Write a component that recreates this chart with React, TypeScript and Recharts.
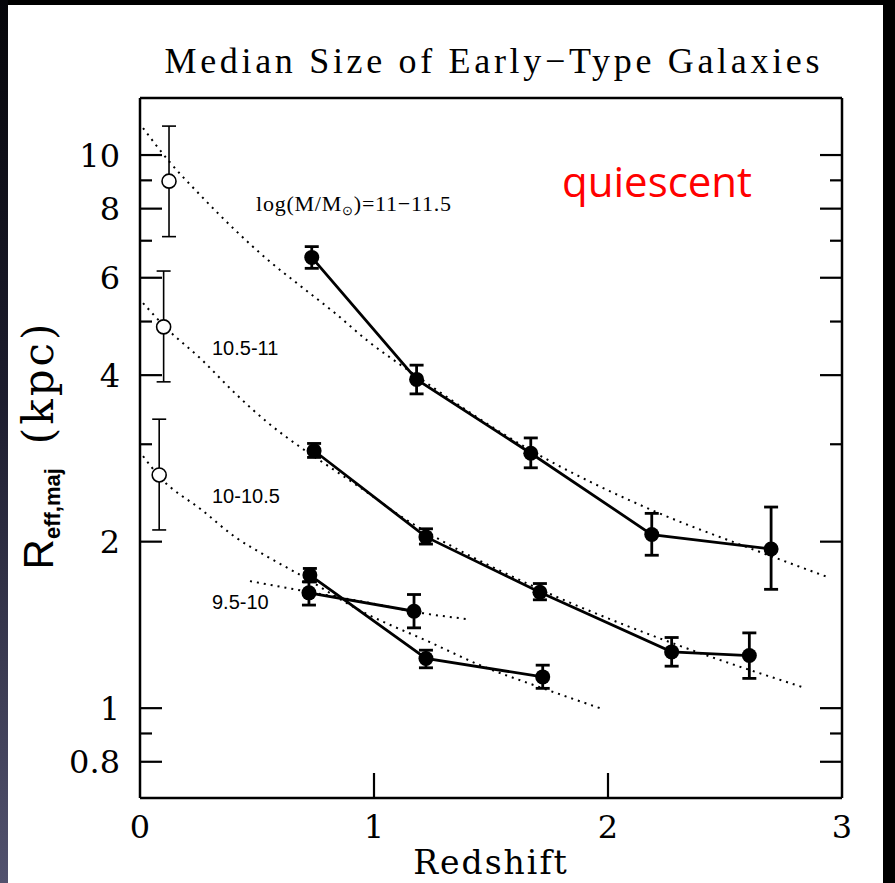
import React from "react";
import { LineChart, Line, XAxis, YAxis, ErrorBar, Customized } from "recharts";

const W = 895;
const H = 883;

// log(M/Msun) = 11-11.5 : redshift, median size, lower / upper bound (kpc)
const zMass11 = [0.734, 1.182, 1.67, 2.187, 2.697];
const rMass11 = [6.53, 3.93, 2.89, 2.06, 1.94];
const loMass11 = [6.24, 3.7, 2.72, 1.89, 1.64];
const hiMass11 = [6.83, 4.17, 3.08, 2.25, 2.31];

// 10.5-11
const zMass105 = [0.744, 1.222, 1.709, 2.272, 2.604];
const rMass105 = [2.92, 2.04, 1.62, 1.264, 1.245];
const loMass105 = [2.84, 1.98, 1.57, 1.191, 1.132];
const hiMass105 = [3.01, 2.11, 1.68, 1.342, 1.368];

// 10-10.5
const zMass10 = [0.726, 1.222, 1.721];
const rMass10 = [1.74, 1.23, 1.139];
const loMass10 = [1.692, 1.183, 1.086];
const hiMass10 = [1.789, 1.273, 1.196];

// 9.5-10
const zMass95 = [0.722, 1.171];
const rMass95 = [1.616, 1.497];
const loMass95 = [1.536, 1.397];
const hiMass95 = [1.692, 1.605];

// local samples (open circles)
const zLocal = [0.124, 0.101, 0.082];
const rLocal = [8.97, 4.89, 2.64];
const loLocal = [7.12, 3.89, 2.1];
const hiLocal = [11.28, 6.17, 3.33];

// dotted fits
const fitZ11 = [0.013, 0.12, 0.265, 0.406, 0.547, 0.692, 0.833, 0.974, 1.162, 1.667, 2.209, 2.594, 2.94];
const fitR11 = [11.19, 9.79, 8.4, 7.32, 6.46, 5.77, 5.18, 4.61, 4.04, 2.93, 2.26, 1.955, 1.725];
const fitZ105 = [0.013, 0.107, 0.265, 0.406, 0.547, 0.692, 0.833, 0.974, 1.12, 1.261, 1.709, 2.265, 2.833];
const fitR105 = [5.4, 4.89, 4.26, 3.71, 3.28, 2.95, 2.69, 2.45, 2.215, 2.04, 1.64, 1.316, 1.091];
const fitZ10 = [0.013, 0.085, 0.265, 0.406, 0.547, 0.671, 0.953, 1.239, 1.453, 1.709, 1.966];
const fitR10 = [2.855, 2.617, 2.28, 2.04, 1.876, 1.754, 1.492, 1.316, 1.196, 1.091, 1.0];
const fitZ95 = [0.47, 0.726, 0.983, 1.209, 1.402];
const fitR95 = [1.697, 1.621, 1.549, 1.485, 1.448];

const xTicks = [0, 1, 2, 3];
const yTicks = [0.8, 0.9, 1, 2, 3, 4, 5, 6, 7, 8, 9, 10];
const yLabelled = [0.8, 1, 2, 4, 6, 8, 10];

const massLabels = ["10.5-11", "10-10.5", "9.5-10"];

const toRows = (z: number[], r: number[], lo: number[], hi: number[]) =>
  z.map((v, i) => ({ z: v, r: r[i], err: [r[i] - lo[i], hi[i] - r[i]] }));
const toCurve = (z: number[], r: number[]) => z.map((v, i) => ({ z: v, r: r[i] }));

const points = [
  toRows(zMass11, rMass11, loMass11, hiMass11),
  toRows(zMass105, rMass105, loMass105, hiMass105),
  toRows(zMass10, rMass10, loMass10, hiMass10),
  toRows(zMass95, rMass95, loMass95, hiMass95),
];
const local = toRows(zLocal, rLocal, loLocal, hiLocal);
const fits = [
  toCurve(fitZ11, fitR11),
  toCurve(fitZ105, fitR105),
  toCurve(fitZ10, fitR10),
  toCurve(fitZ95, fitR95),
];

const serif = "'DejaVu Serif', serif";
const tickW = 2.2;

const LeftTick = (props: any) => {
  const { x, y, payload } = props;
  const major = yLabelled.includes(payload.value);
  return (
    <g>
      <line x1={x} y1={y} x2={x + (major ? 22 : 12)} y2={y} stroke="#000" strokeWidth={tickW} />
      {major && (
        <text x={x - 20} y={y + 11.5} textAnchor="end" fontFamily={serif} fontSize={32} fill="#000">
          {payload.value}
        </text>
      )}
    </g>
  );
};

const RightTick = (props: any) => {
  const { x, y, payload } = props;
  const major = yLabelled.includes(payload.value);
  return <line x1={x} y1={y} x2={x - (major ? 22 : 12)} y2={y} stroke="#000" strokeWidth={tickW} />;
};

const BottomTick = (props: any) => {
  const { x, y, payload } = props;
  const inner = payload.value > 0 && payload.value < 3;
  return (
    <g>
      {inner && <line x1={x} y1={y} x2={x} y2={y - 25} stroke="#000" strokeWidth={tickW} />}
      <text x={x} y={y + 40} textAnchor="middle" fontFamily={serif} fontSize={32} fill="#000">
        {payload.value}
      </text>
    </g>
  );
};

const TopTick = (props: any) => {
  const { x, y, payload } = props;
  const inner = payload.value > 0 && payload.value < 3;
  return inner ? <line x1={x} y1={y} x2={x} y2={y + 25} stroke="#000" strokeWidth={tickW} /> : <g />;
};

const Overlay = () => (
  <g>
    <text
      x={492}
      y={73}
      textAnchor="middle"
      fontFamily="'Liberation Serif', serif"
      fontSize={36}
      textLength={655}
      lengthAdjust="spacing"
      fill="#000"
    >
      Median Size of Early−Type Galaxies
    </text>
    <text x={562} y={197} fontFamily="'Open Sans', sans-serif" fontSize={42} fill="#ff0000">
      quiescent
    </text>
    <text
      x={256}
      y={211}
      fontFamily="'Liberation Serif', serif"
      fontSize={22}
      textLength={195}
      lengthAdjust="spacing"
      fill="#000"
    >
      log(M/M
      <tspan fontSize={13} dy={4}>
        ⊙
      </tspan>
      <tspan dy={-4}>)=11−11.5</tspan>
    </text>
    {massLabels.map((t, i) => (
      <text key={t} x={212} y={[355, 503, 609][i]} fontFamily="'Liberation Sans', sans-serif" fontSize={20} fill="#000">
        {t}
      </text>
    ))}
    <text x={491} y={874} textAnchor="middle" fontFamily={serif} fontSize={33} letterSpacing={2} fill="#000">
      Redshift
    </text>
    <text transform="translate(53, 445) rotate(-90)" textAnchor="middle" fill="#000">
      <tspan fontFamily="'Liberation Sans', sans-serif" fontSize={42}>
        R
      </tspan>
      <tspan fontFamily="'Liberation Sans', sans-serif" fontWeight="bold" fontSize={22} dy={7}>
        eff,maj
      </tspan>
      <tspan fontFamily={serif} fontSize={42} letterSpacing={3} dy={-7} dx={24}>
        (kpc)
      </tspan>
    </text>
  </g>
);

export default function App() {
  return (
    <div style={{ position: "absolute", left: 0, top: 0, width: W, height: H, background: "#000", overflow: "hidden" }}>
      <div
        style={{
          position: "absolute",
          left: 0,
          top: 0,
          width: 8,
          height: H,
          background: "linear-gradient(#06060a, #1d1d2e 45%, #52526e)",
        }}
      />
      <div style={{ position: "absolute", left: 8, top: 5, width: 875, height: H - 5, background: "#fff" }} />
      <div style={{ position: "absolute", left: 0, top: 0 }}>
        <LineChart width={W} height={H} margin={{ top: 78, right: 33, bottom: 45, left: 80 }}>
          <XAxis
            xAxisId={0}
            type="number"
            dataKey="z"
            domain={[0, 3]}
            ticks={xTicks}
            interval={0}
            height={40}
            tickSize={0}
            tickMargin={0}
            tickLine={false}
            axisLine={{ stroke: "#000", strokeWidth: 2.5 }}
            tick={BottomTick}
            allowDataOverflow
          />
          <XAxis
            xAxisId="top"
            orientation="top"
            type="number"
            domain={[0, 3]}
            ticks={xTicks}
            interval={0}
            height={20}
            tickSize={0}
            tickMargin={0}
            tickLine={false}
            axisLine={{ stroke: "#000", strokeWidth: 2.5 }}
            tick={TopTick}
            allowDataOverflow
          />
          <YAxis
            yAxisId={0}
            type="number"
            scale="log"
            domain={[0.688, 12.68]}
            ticks={yTicks}
            interval={0}
            width={60}
            tickSize={0}
            tickMargin={0}
            tickLine={false}
            axisLine={{ stroke: "#000", strokeWidth: 2.5 }}
            tick={LeftTick}
            allowDataOverflow
          />
          <YAxis
            yAxisId="right"
            orientation="right"
            type="number"
            scale="log"
            domain={[0.688, 12.68]}
            ticks={yTicks}
            interval={0}
            width={20}
            tickSize={0}
            tickMargin={0}
            tickLine={false}
            axisLine={{ stroke: "#000", strokeWidth: 2.5 }}
            tick={RightTick}
            allowDataOverflow
          />
          {fits.map((d, i) => (
            <Line
              key={"fit" + i}
              data={d}
              dataKey="r"
              type="monotone"
              stroke="#000"
              strokeWidth={2}
              strokeDasharray="2 5"
              dot={false}
              activeDot={false}
              isAnimationActive={false}
            />
          ))}
          <Line
            data={local}
            dataKey="r"
            stroke="none"
            dot={{ r: 7, fill: "#fff", stroke: "#000", strokeWidth: 1.6 }}
            activeDot={false}
            isAnimationActive={false}
          >
            <ErrorBar dataKey="err" direction="y" width={7} stroke="#000" strokeWidth={1.6} />
          </Line>
          {points.map((d, i) => (
            <Line
              key={"pts" + i}
              data={d}
              dataKey="r"
              type="linear"
              stroke="#000"
              strokeWidth={2.8}
              dot={{ r: 7.5, fill: "#000", stroke: "#000", strokeWidth: 0 }}
              activeDot={false}
              isAnimationActive={false}
            >
              <ErrorBar dataKey="err" direction="y" width={7} stroke="#000" strokeWidth={2.8} />
            </Line>
          ))}
          <Customized component={Overlay} />
        </LineChart>
      </div>
    </div>
  );
}
